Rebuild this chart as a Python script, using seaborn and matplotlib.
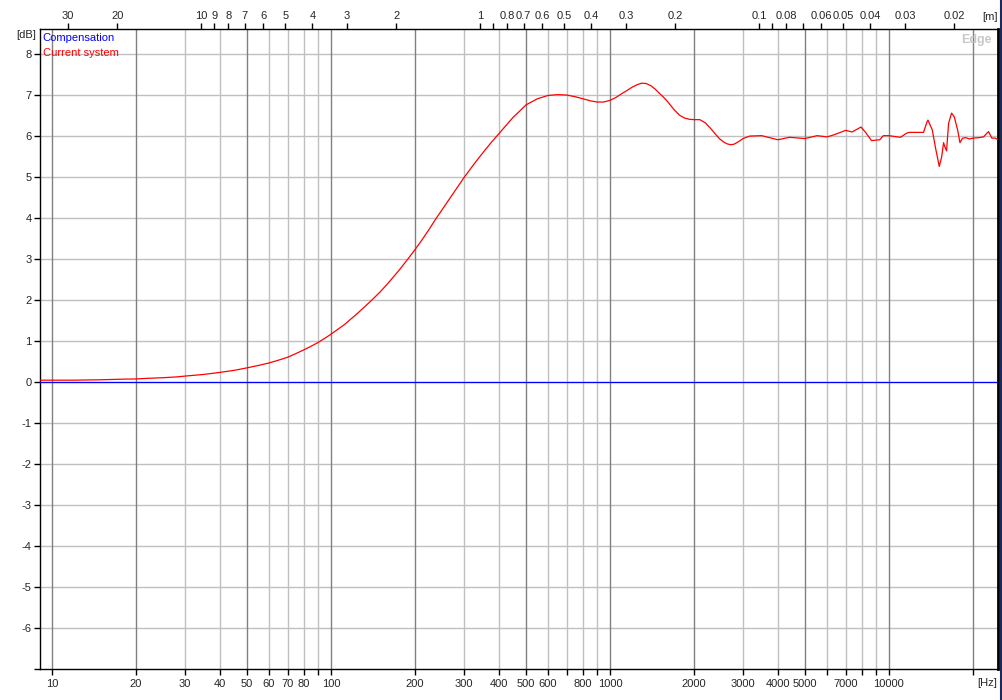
import numpy as np
import pandas as pd
import matplotlib
matplotlib.use("Agg")
import matplotlib.pyplot as plt
import seaborn as sns
from matplotlib.lines import Line2D

# ---- data ----
freq_hz = [9, 12, 15, 18, 20, 22, 25, 28, 30, 35, 40, 45, 50, 55, 60, 65, 70, 75, 80,
           85, 90, 95, 100, 112, 125, 140, 150, 160, 175, 190, 200, 212, 225, 237,
           250, 275, 300, 325, 350, 375, 400, 425, 450, 475, 500, 550, 600, 650, 700,
           750, 800, 850, 900, 950, 1000, 1050, 1100, 1150, 1200, 1250, 1300, 1350,
           1400, 1450, 1500, 1550, 1600, 1650, 1700, 1775, 1850, 1925, 2000, 2100,
           2200, 2300, 2400, 2475, 2550, 2630, 2710, 2780, 2850, 2930, 3000, 3170,
           3500, 4000, 4400, 5000, 5530, 6000, 6350, 7000, 7380, 7940, 8270, 8660,
           9270, 9550, 10000, 10730, 11000, 11500, 11800, 13300, 13700, 13800,
           14300, 14700, 15150, 15450, 15700, 15860, 16090, 16360, 16770, 17140,
           17630, 17970, 18370, 18880, 19400, 20000, 20940, 21820, 22740, 23390,
           24030, 24600]
current_db = [0.04, 0.04, 0.05, 0.065, 0.07, 0.085, 0.10, 0.12, 0.14, 0.18, 0.23, 0.28,
              0.34, 0.40, 0.46, 0.53, 0.60, 0.69, 0.78, 0.87, 0.96, 1.06, 1.16, 1.40,
              1.68, 1.99, 2.19, 2.40, 2.71, 3.02, 3.22, 3.46, 3.72, 3.96, 4.19, 4.60,
              4.98, 5.30, 5.58, 5.83, 6.05, 6.26, 6.45, 6.60, 6.75, 6.90, 6.98, 7.00,
              6.99, 6.95, 6.90, 6.85, 6.82, 6.82, 6.86, 6.93, 7.02, 7.10, 7.18, 7.24,
              7.28, 7.27, 7.22, 7.14, 7.04, 6.95, 6.85, 6.74, 6.63, 6.50, 6.43, 6.40,
              6.39, 6.39, 6.31, 6.17, 6.02, 5.92, 5.85, 5.80, 5.78, 5.79, 5.83, 5.88,
              5.93, 5.99, 6.00, 5.90, 5.96, 5.93, 6.00, 5.97, 6.02, 6.13, 6.09, 6.21,
              6.07, 5.88, 5.90, 6.00, 6.00, 5.97, 5.96, 6.05, 6.08, 6.08, 6.34, 6.38,
              6.14, 5.69, 5.25, 5.48, 5.83, 5.73, 5.63, 6.30, 6.55, 6.46, 6.14, 5.83,
              5.94, 5.95, 5.92, 5.94, 5.95, 5.97, 6.10, 5.94, 5.94, 5.90]
comp_freq = [9, 24600]
comp_db = [0.0, 0.0]

x_labels = [10, 20, 30, 40, 50, 60, 70, 80, 100, 200, 300, 400, 500, 600, 800, 1000,
            2000, 3000, 4000, 5000, 7000, 10000]
x_unlabeled = [90, 700, 900, 6000, 8000, 9000, 20000]
x_major_grid = [10, 20, 50, 100, 200, 500, 1000, 2000, 5000, 10000, 20000]
x_minor_grid = [30, 40, 60, 70, 80, 90, 300, 400, 600, 700, 800, 900,
                3000, 4000, 6000, 7000, 8000, 9000]
y_ticks = list(range(-6, 9))
wl_labels = ["30", "20", "10", "9", "8", "7", "6", "5", "4", "3", "2", "1", "0.8",
             "0.7", "0.6", "0.5", "0.4", "0.3", "0.2", "0.1", "0.08", "0.06", "0.05",
             "0.04", "0.03", "0.02"]
wl_unlabeled = [0.9, 0.09, 0.07]
SPEED = 343.0

sns.set_style("white")
plt.rcParams["font.family"] = ["Liberation Sans", "DejaVu Sans"]
FS = 8

fig = plt.figure(figsize=(10.02, 7.0), dpi=100)
W, H = 1002, 700
L, R, T, B = 40, 998, 29, 669
ax = fig.add_axes([L / W, (H - B) / H, (R - L) / W, (B - T) / H])

df_cur = pd.DataFrame({"f": freq_hz, "db": current_db})
df_comp = pd.DataFrame({"f": comp_freq, "db": comp_db})
sns.lineplot(data=df_comp, x="f", y="db", ax=ax, color="#0000ff", lw=0.9,
             estimator=None, zorder=3)
sns.lineplot(data=df_cur, x="f", y="db", ax=ax, color="#ff0000", lw=0.9,
             estimator=None, zorder=4)

ax.set_xscale("log")
ax.set_xlim(9.06, 24600)
ax.set_ylim(-7, 8.6)
ax.set_xlabel("")
ax.set_ylabel("")

# grid
for yv in y_ticks:
    ax.axhline(yv, color="#c0c0c0", lw=1.0, zorder=0.8)
for f in x_minor_grid:
    ax.axvline(f, color="#c0c0c0", lw=1.0, zorder=0.9)
for f in x_major_grid:
    ax.axvline(f, color="#808080", lw=1.0, zorder=1)

ax.set_xticks(x_labels + x_unlabeled)
ax.set_xticklabels([str(v) for v in x_labels] + [""] * len(x_unlabeled))
ax.xaxis.set_minor_locator(matplotlib.ticker.NullLocator())
ax.set_yticks(y_ticks + [-7])
ax.set_yticklabels([str(v) for v in y_ticks] + [""])
ax.tick_params(axis="x", direction="out", length=4, width=1, color="black",
               labelsize=FS, pad=3, bottom=True)
ax.tick_params(axis="y", direction="out", length=4, width=1, color="black",
               labelsize=FS, pad=2, left=True)
for s in ax.spines.values():
    s.set_color("black")
    s.set_linewidth(1.0)
ax.spines["right"].set_linewidth(2.0)

# top wavelength axis
ax2 = ax.twiny()
ax2.set_xscale("log")
ax2.set_xlim(ax.get_xlim())
wl_vals = [float(s) for s in wl_labels]
ax2.set_xticks([SPEED / w for w in wl_vals] + [SPEED / w for w in wl_unlabeled])
ax2.set_xticklabels(wl_labels + [""] * len(wl_unlabeled))
ax2.xaxis.set_minor_locator(matplotlib.ticker.NullLocator())
ax2.tick_params(axis="x", direction="out", length=4, width=1, color="black",
                labelsize=FS, pad=2)
for s in ax2.spines.values():
    s.set_visible(False)
ax2.grid(False)

# text
ax.text(0.003, 0.986, "Compensation", color="#0000ff", fontsize=FS,
        transform=ax.transAxes, va="center", ha="left", zorder=5)
ax.text(0.003, 0.9625, "Current system", color="#ff0000", fontsize=FS,
        transform=ax.transAxes, va="center", ha="left", zorder=5)
ax.text(0.993, 0.983, "Edge", color="#c8c8c8", fontsize=9, fontweight="bold",
        transform=ax.transAxes, va="center", ha="right", zorder=5)
fig.text(26 / W, 1 - 35 / H, "[dB]", fontsize=FS, ha="center", va="center")
fig.text(987 / W, 1 - 683 / H, "[Hz]", fontsize=FS, ha="center", va="center")
fig.text(990 / W, 1 - 17 / H, "[m]", fontsize=FS, ha="center", va="center")

fig.add_artist(Line2D([1000.5 / W, 1000.5 / W], [0, 1], transform=fig.transFigure,
                      color="#1c2a5a", lw=1.5))

fig.savefig("out.png", dpi=100)
